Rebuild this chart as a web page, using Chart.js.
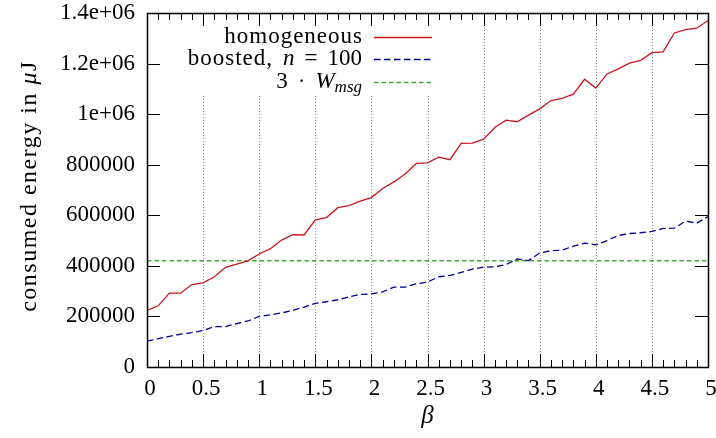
<!DOCTYPE html>
<html><head><meta charset="utf-8">
<script src="https://cdn.jsdelivr.net/npm/chart.js@4"></script>
<style>html,body{margin:0;padding:0;background:#fff}#wrap{width:716px;height:438px}</style>
</head><body><div id="wrap"><canvas id="c" width="716" height="438"></canvas></div>
<script>
const beta = [0,0.1,0.2,0.3,0.4,0.5,0.6,0.7,0.8,0.9,1.0,1.1,1.2,1.3,1.4,1.5,1.6,1.7,1.8,1.9,2.0,2.1,2.2,2.3,2.4,2.5,2.6,2.7,2.8,2.9,3.0,3.1,3.2,3.3,3.4,3.5,3.6,3.7,3.8,3.9,4.0,4.1,4.2,4.3,4.4,4.5,4.6,4.7,4.8,4.9,5.0];
const homogeneous = [224000,242000,292000,292000,326000,333000,357000,394000,407000,420000,447000,468000,502000,523000,522000,582000,591000,630000,638000,656000,670000,706000,732000,763000,805000,807000,830000,820000,884000,885000,901000,947000,976000,970000,996000,1021000,1054000,1062000,1079000,1138000,1103000,1159000,1179000,1202000,1213000,1243000,1246000,1321000,1334000,1340000,1370000];
const boosted = [102000,112000,121000,130000,136000,144000,160000,160000,172000,182000,200000,206000,214000,224000,237000,252000,258000,266000,277000,287000,289000,297000,316000,316000,329000,336000,357000,362000,374000,387000,395000,396000,405000,427000,421000,451000,460000,462000,478000,490000,483000,500000,520000,528000,531000,536000,548000,549000,577000,569000,595000];
const wmsgBeta = [0, 5];
const wmsgValue = [420000, 420000];
const yTickValues = [0,200000,400000,600000,800000,1000000,1200000,1400000];
const yTickLabels = ['0','200000','400000','600000','800000','1e+06','1.2e+06','1.4e+06'];
const xMajorTicks = [0,0.5,1,1.5,2,2.5,3,3.5,4,4.5,5];
const xTickLabels = ['0','0.5','1','1.5','2','2.5','3','3.5','4','4.5','5'];
const xMinorTicks = beta;
const yTitle = ['consumed energy in ', 'μ', 'J'];

const RED = '#c8161d', BLUE = '#00008b', GREEN = '#3caa3c';
const FONT = '"Liberation Serif", "DejaVu Serif", serif';
const FS = 23;

const framePlugin = {
  id: 'frame',
  beforeDatasetsDraw(chart) {
    const {ctx, chartArea: a, scales: {x}} = chart;
    ctx.save();
    ctx.strokeStyle = '#999';
    ctx.lineWidth = 1;
    ctx.setLineDash([1, 2]);
    xMajorTicks.forEach(v => {
      if (v === 0 || v === 5) return;
      const px = Math.round(x.getPixelForValue(v)) + 0.5;
      ctx.beginPath(); ctx.moveTo(px, a.bottom); ctx.lineTo(px, a.top); ctx.stroke();
    });
    ctx.restore();
  },
  afterDatasetsDraw(chart) {
    const {ctx, chartArea: a, scales: {x, y}} = chart;
    ctx.save();
    // legend box (opaque)
    const legRight = 362, sx0 = 374, sx1 = 432;
    ctx.fillStyle = '#fff';
    ctx.fillRect(170, a.top + 1, 272, 80);
    const rows = [36.5, 59, 82];
    ctx.textBaseline = 'middle';
    ctx.fillStyle = '#000';
    ctx.textAlign = 'right';
    // row 1
    ctx.font = FS + 'px ' + FONT;
    ctx.letterSpacing = '1px';
    ctx.fillText('homogeneous', legRight + 1, rows[0]);
    ctx.letterSpacing = '0px';
    // row 2: boosted, n = 100
    let xr = legRight;
    ctx.font = FS + 'px ' + FONT;
    ctx.fillText('100', xr, rows[1]);
    xr -= ctx.measureText('100').width + 10;
    ctx.fillText('=', xr, rows[1]);
    xr -= ctx.measureText('=').width + 10;
    ctx.font = 'italic ' + FS + 'px ' + FONT;
    ctx.fillText('n', xr, rows[1]);
    xr -= ctx.measureText('n').width + 11;
    ctx.font = FS + 'px ' + FONT;
    ctx.letterSpacing = '1px';
    ctx.fillText('boosted,', xr + 1, rows[1]);
    ctx.letterSpacing = '0px';
    // row 3: 3 · W_msg
    xr = legRight;
    ctx.font = 'italic 17px ' + FONT;
    ctx.fillText('msg', xr, rows[2] + 6);
    xr -= ctx.measureText('msg').width;
    ctx.font = 'italic ' + FS + 'px ' + FONT;
    ctx.fillText('W', xr, rows[2]);
    xr -= ctx.measureText('W').width + 10;
    ctx.font = FS + 'px ' + FONT;
    ctx.fillText('·', xr, rows[2]);
    xr -= ctx.measureText('·').width + 10;
    ctx.fillText('3', xr, rows[2]);
    // samples
    const samples = [[RED, []], [BLUE, [6.5, 3.5]], [GREEN, [4.5, 3]]];
    samples.forEach((s, i) => {
      ctx.strokeStyle = s[0]; ctx.lineWidth = 1.3; ctx.setLineDash(s[1]);
      ctx.beginPath(); ctx.moveTo(sx0, Math.round(rows[i]) + 0.5); ctx.lineTo(sx1, Math.round(rows[i]) + 0.5); ctx.stroke();
    });
    ctx.setLineDash([]);
    // ticks
    ctx.strokeStyle = '#000';
    ctx.lineWidth = 1;
    xMinorTicks.forEach(v => {
      const major = xMajorTicks.includes(v);
      const len = major ? 13 : 7;
      const px = Math.round(x.getPixelForValue(v)) + 0.5;
      ctx.beginPath();
      ctx.moveTo(px, a.bottom); ctx.lineTo(px, a.bottom - len);
      ctx.moveTo(px, a.top); ctx.lineTo(px, a.top + len);
      ctx.stroke();
    });
    yTickValues.forEach(v => {
      const py = Math.round(y.getPixelForValue(v)) + 0.5;
      ctx.beginPath();
      ctx.moveTo(a.left, py); ctx.lineTo(a.left + 13, py);
      ctx.moveTo(a.right, py); ctx.lineTo(a.right - 13, py);
      ctx.stroke();
    });
    // frame
    ctx.lineWidth = 1.5;
    ctx.strokeRect(Math.round(a.left) + 0.5, Math.round(a.top) + 0.5, Math.round(a.right - a.left), Math.round(a.bottom - a.top));
    // y axis title
    ctx.translate(30, 186);
    ctx.rotate(-Math.PI / 2);
    ctx.textAlign = 'left';
    ctx.textBaseline = 'middle';
    ctx.letterSpacing = '1.5px';
    const parts = [[yTitle[0], ''], [yTitle[1], 'italic '], [yTitle[2], '']];
    let total = 0;
    parts.forEach(p => { ctx.font = p[1] + '24px ' + FONT; total += ctx.measureText(p[0]).width; });
    let cx = -total / 2;
    parts.forEach(p => { ctx.font = p[1] + '24px ' + FONT; ctx.fillText(p[0], cx, 0); cx += ctx.measureText(p[0]).width; });
    ctx.restore();
  }
};

new Chart(document.getElementById('c'), {
  type: 'line',
  data: {
    datasets: [
      { label: 'homogeneous', data: beta.map((b, i) => ({x: b, y: homogeneous[i]})), borderColor: RED, borderWidth: 1.3, pointRadius: 0, tension: 0, fill: false },
      { label: 'boosted, n = 100', data: beta.map((b, i) => ({x: b, y: boosted[i]})), borderColor: BLUE, borderWidth: 1.3, borderDash: [6.5, 3.5], pointRadius: 0, tension: 0, fill: false },
      { label: '3 · W_msg', data: wmsgBeta.map((b, i) => ({x: b, y: wmsgValue[i]})), borderColor: GREEN, borderWidth: 1.5, borderDash: [4.5, 3], pointRadius: 0, tension: 0, fill: false }
    ]
  },
  options: {
    responsive: false,
    animation: false,
    devicePixelRatio: 1,
    layout: { padding: { left: 0, right: 8, top: 13, bottom: 0 } },
    plugins: { legend: { display: false }, tooltip: { enabled: false } },
    scales: {
      x: {
        type: 'linear', min: 0, max: 5,
        afterFit(s) { s.height = 71; s.paddingLeft = 0; s.paddingRight = 0; },
        afterBuildTicks(s) { s.ticks = xMajorTicks.map(v => ({value: v})); },
        grid: { display: false, drawTicks: false },
        border: { display: false },
        ticks: { padding: 8, labelOffset: 3, color: '#000', maxRotation: 0, autoSkip: false, font: { family: FONT, size: FS },
          callback: (v, i) => xTickLabels[i] },
        title: { display: true, text: 'β', color: '#000', font: { family: FONT, size: FS + 2, style: 'italic' }, padding: { top: 0, bottom: 7 } }
      },
      y: {
        type: 'linear', min: 0, max: 1400000,
        afterFit(s) { s.width = 147; s.paddingTop = 0; s.paddingBottom = 0; },
        afterBuildTicks(s) { s.ticks = yTickValues.map(v => ({value: v})); },
        grid: { display: false, drawTicks: false },
        border: { display: false },
        ticks: { padding: 12, color: '#000', autoSkip: false, font: { family: FONT, size: FS },
          callback: (v, i) => yTickLabels[i] },
        title: { display: false }
      }
    }
  },
  plugins: [framePlugin]
});
</script>
</body></html>
